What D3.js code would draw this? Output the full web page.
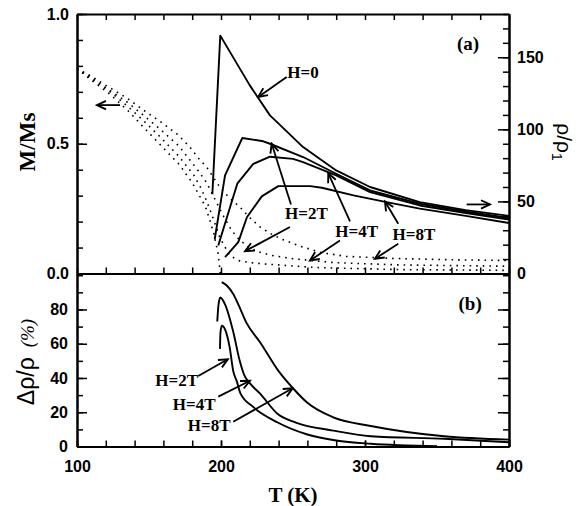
<!DOCTYPE html>
<html>
<head>
<meta charset="utf-8">
<script src="https://cdn.jsdelivr.net/npm/d3@7"></script>
<style>
  html, body { margin: 0; padding: 0; background: #fff; }
  svg { display: block; }
  .tick text { font-family: "Liberation Sans", Arial, sans-serif; font-weight: bold; font-size: 16px; fill: #000; }
  .ann { font-family: "Liberation Serif", "Times New Roman", serif; font-weight: bold; font-size: 17px; fill: #000; }
</style>
</head>
<body>
<svg id="chart" width="579" height="506"></svg>
<script>
// ---- Magnetization M/Ms versus T (dotted curves, left axis of panel a) ----
const magH8 = [[100,0.79],[110,0.76],[123,0.715],[135,0.675],[146,0.63],[158,0.585],[170,0.535],[178,0.49],[185,0.44],[190,0.41],[199,0.334],[206,0.29],[213,0.257],[220,0.215],[227,0.18],[234,0.155],[241,0.135],[255,0.105],[270,0.08],[287,0.066],[320,0.058],[360,0.053],[400,0.05]];
const magH4 = [[100,0.79],[110,0.755],[123,0.705],[135,0.66],[146,0.61],[158,0.555],[171,0.49],[178,0.44],[185,0.39],[190,0.35],[195,0.295],[202,0.218],[207,0.17],[211,0.14],[218,0.105],[225,0.085],[235,0.07],[250,0.057],[278,0.042],[324,0.033],[400,0.028]];
const magH2 = [[100,0.79],[110,0.75],[123,0.70],[135,0.645],[146,0.59],[158,0.525],[171,0.45],[181,0.38],[186,0.33],[190,0.28],[195,0.206],[199,0.141],[203,0.1],[206,0.07],[212,0.05],[220,0.042],[232,0.036],[266,0.023],[324,0.015],[400,0.012]];
const magH0 = [[100,0.79],[110,0.745],[123,0.69],[135,0.63],[146,0.565],[158,0.495],[171,0.42],[180,0.35],[185,0.3],[189,0.26],[192,0.21],[195,0.154],[198,0.077],[199.5,0]];

// ---- Resistivity rho/rho1 versus T (solid curves, right axis of panel a) ----
const rhoH0 = [[194,55],[199.5,165],[220,130.5],[234,109.7],[240,104],[257,87.7],[280,71.5],[303.5,60],[338,49.5],[370,44],[400,40]];
const rhoH2 = [[195.6,23.6],[202.8,68],[214.8,94],[229.4,91.7],[234,90],[257,80.8],[280,69.2],[303.5,57.6],[338,48.4],[370,43],[400,38.5]];
const rhoH4 = [[198.1,19.4],[211.3,62.3],[222.4,76],[234,81],[250,79.5],[257,77.3],[280,68],[303.5,56.5],[338,47.2],[370,42],[400,37.5]];
const rhoH8 = [[202.8,11.3],[212,21.8],[218,39],[228.3,53.5],[239.8,60.6],[262,60.6],[270,59.5],[292,54.2],[315,49.5],[338,45],[370,40],[400,35]];

// ---- Magnetoresistance (%) versus T (panel b) ----
const mrH2 = [[199.3,57],[199.6,66],[200.5,70.5],[203,68],[206,58],[208.5,44],[211,38],[213.5,31],[222.5,23],[239.4,14],[260,7],[280,3.5],[304,1.6],[350,0.2]];
const mrH4 = [[197.4,73],[198.3,83],[199.5,87],[202.8,83],[208.5,67],[213,50],[216,42],[220,37],[227,31],[239.4,19],[252,14],[278,9.3],[304,6],[355,4.5],[400,2.5]];
const mrH8 = [[200.5,96],[204,94],[208.5,89],[212,83],[217.8,72],[227,61],[240,44],[250,34],[260,25.5],[278,17],[304,12],[329,8.5],[355,6],[400,4]];

// ---- Tick values ----
const tempTicks = [100, 200, 300, 400];
const magTicks = [0, 0.5, 1.0];
const rhoTicks = [0, 50, 100, 150];
const mrTicks = [0, 20, 40, 60, 80];

const svg = d3.select("#chart");
svg.append("rect").attr("width", 579).attr("height", 506).attr("fill", "#fff");

// Scales: both panels share the temperature axis
const x = d3.scaleLinear([100, 400], [77, 509]);
const yM = d3.scaleLinear([0, 1], [273.5, 14]);
const yR = d3.scaleLinear([0, 180], [273.5, 14]);
const yB = d3.scaleLinear([0, 101], [446.5, 273.5]);

function addAxis(gen, tx, ty) {
  const g = svg.append("g").attr("transform", `translate(${tx},${ty})`).call(gen);
  g.select(".domain").attr("stroke", "#000").attr("stroke-width", 2);
  g.selectAll(".tick line").attr("stroke", "#000").attr("stroke-width", 1.5);
  return g;
}

const tempMinor = d3.range(100, 401, 20);
const magMinor = d3.range(0, 1.0001, 0.1);
const rhoMinor = d3.range(0, 181, 10);
const mrMinor = d3.range(0, 101, 10);

// Panel (a) frame and ticks
addAxis(d3.axisLeft(yM).tickValues(magMinor).tickSize(-6).tickSizeOuter(0).tickFormat(""), 77, 0);
addAxis(d3.axisLeft(yM).tickValues(magTicks).tickSize(-10).tickSizeOuter(0).tickPadding(8).tickFormat(d3.format(".1f")), 77, 0);
addAxis(d3.axisRight(yR).tickValues(rhoMinor).tickSize(-6).tickSizeOuter(0).tickFormat(""), 509, 0);
addAxis(d3.axisRight(yR).tickValues(rhoTicks).tickSize(-11).tickSizeOuter(0).tickPadding(8).tickFormat(d3.format("d")), 509, 0);
addAxis(d3.axisTop(x).tickValues(tempMinor).tickSize(-6).tickSizeOuter(0).tickFormat(""), 0, 14);
addAxis(d3.axisBottom(x).tickValues(tempMinor).tickSize(-6).tickSizeOuter(0).tickFormat(""), 0, 273.5);

// Panel (b) frame and ticks
addAxis(d3.axisLeft(yB).tickValues(mrMinor).tickSize(-6).tickSizeOuter(0).tickFormat(""), 77, 0);
addAxis(d3.axisLeft(yB).tickValues(mrTicks).tickSize(-10).tickSizeOuter(0).tickPadding(9).tickFormat(d3.format("d")), 77, 0);
addAxis(d3.axisRight(yB).tickValues(mrMinor).tickSize(-6).tickSizeOuter(0).tickFormat(""), 509, 0);
addAxis(d3.axisRight(yB).tickValues(mrTicks.filter(v => v > 0)).tickSize(-11).tickSizeOuter(0).tickFormat(""), 509, 0);
addAxis(d3.axisBottom(x).tickValues(tempMinor).tickSize(-6).tickSizeOuter(0).tickFormat(""), 0, 446.5);
addAxis(d3.axisBottom(x).tickValues(tempTicks).tickSize(-6).tickSizeOuter(0).tickPadding(14).tickFormat(d3.format("d")), 0, 446.5);

// Curves
const lineM = d3.line().x(d => x(d[0])).y(d => yM(d[1]));
const lineR = d3.line().x(d => x(d[0])).y(d => yR(d[1]));
const lineB = d3.line().x(d => x(d[0])).y(d => yB(d[1])).curve(d3.curveMonotoneX);

[magH8, magH4, magH2, magH0].forEach(s => {
  svg.append("path").attr("d", lineM(s)).attr("fill", "none").attr("stroke", "#000")
    .attr("stroke-width", 1.6).attr("stroke-dasharray", "1.6 5");
});
[rhoH0, rhoH2, rhoH4, rhoH8].forEach(s => {
  svg.append("path").attr("d", lineR(s)).attr("fill", "none").attr("stroke", "#000")
    .attr("stroke-width", 1.9).attr("stroke-linejoin", "round");
});
[mrH2, mrH4, mrH8].forEach(s => {
  svg.append("path").attr("d", lineB(s)).attr("fill", "none").attr("stroke", "#000")
    .attr("stroke-width", 1.9).attr("stroke-linejoin", "round");
});

// Arrowhead marker
svg.append("defs").append("marker")
  .attr("id", "head").attr("viewBox", "-11 -6 13 12").attr("refX", 0).attr("refY", 0)
  .attr("markerWidth", 13).attr("markerHeight", 12).attr("markerUnits", "userSpaceOnUse")
  .attr("orient", "auto")
  .append("path").attr("d", "M-9,-4.2 L0,0 L-9,4.2").attr("fill", "none")
  .attr("stroke", "#000").attr("stroke-width", 1.9).attr("stroke-linejoin", "miter");

function arrow(yScale, from, to) {
  svg.append("line")
    .attr("x1", x(from[0])).attr("y1", yScale(from[1]))
    .attr("x2", x(to[0])).attr("y2", yScale(to[1]))
    .attr("stroke", "#000").attr("stroke-width", 1.8).attr("marker-end", "url(#head)");
}
function label(yScale, at, txt, size) {
  svg.append("text").attr("class", "ann")
    .attr("x", x(at[0])).attr("y", yScale(at[1])).attr("dy", "0.35em")
    .attr("text-anchor", "middle").style("font-size", (size || 17) + "px").text(txt);
}

// Panel (a) annotations
label(yR, [371.5, 159.7], "(a)", 19);
arrow(yM, [129.9, 0.649], [113.9, 0.649]);
arrow(yR, [370.6, 47.9], [386.8, 47.9]);
label(yR, [257, 139.6], "H=0");
arrow(yR, [245.6, 136.3], [225.9, 122.5]);
label(yR, [259.3, 41.9], "H=2T");
arrow(yR, [248.6, 47.9], [235.2, 90]);
arrow(yR, [247.9, 32.2], [216.7, 15.5]);
label(yR, [294.2, 29.7], "H=4T");
arrow(yR, [289.6, 36.1], [274.5, 69.5]);
arrow(yR, [282.6, 22.9], [261.8, 9.0]);
label(yR, [334, 27.6], "H=8T");
arrow(yR, [323.1, 34.5], [313.9, 50]);
arrow(yR, [323.1, 20.6], [306.9, 10.2]);

// Panel (b) annotations
label(yB, [373, 83.5], "(b)", 19);
label(yB, [169.2, 38.8], "H=2T");
arrow(yB, [184.2, 41.2], [204.7, 50.9]);
label(yB, [181.4, 24.8], "H=4T");
arrow(yB, [198.1, 29.1], [220.1, 38.4]);
label(yB, [191.8, 12.6], "H=8T");
arrow(yB, [208.5, 14.5], [249.7, 34]);

// Axis titles
svg.append("text")
  .attr("transform", "translate(35,142) rotate(-90)")
  .attr("text-anchor", "middle")
  .style("font-family", "'Liberation Serif','Times New Roman',serif")
  .style("font-weight", "bold").style("font-size", "23px")
  .text("M/Ms");

const rt = svg.append("text")
  .attr("transform", "translate(557,142) rotate(90)")
  .attr("text-anchor", "middle")
  .style("font-family", "'Liberation Sans',Arial,sans-serif")
  .style("font-size", "21px");
rt.append("tspan").text("ρ/ρ");
rt.append("tspan").attr("dy", 5).style("font-size", "14px").text("1");

const bt = svg.append("text")
  .attr("transform", "translate(34,362) rotate(-90)")
  .attr("text-anchor", "middle")
  .style("font-family", "'Liberation Sans',Arial,sans-serif")
  .style("font-size", "23px");
bt.append("tspan").text("Δρ/ρ");
bt.append("tspan").attr("dx", 10).style("font-family", "'Liberation Serif','Times New Roman',serif")
  .style("font-style", "italic").style("font-size", "19px").text("(%)");

svg.append("text")
  .attr("x", x(250)).attr("y", 501.5)
  .attr("text-anchor", "middle")
  .style("font-family", "'Liberation Serif','Times New Roman',serif")
  .style("font-weight", "bold").style("font-size", "21px")
  .text("T (K)");
</script>
</body>
</html>
